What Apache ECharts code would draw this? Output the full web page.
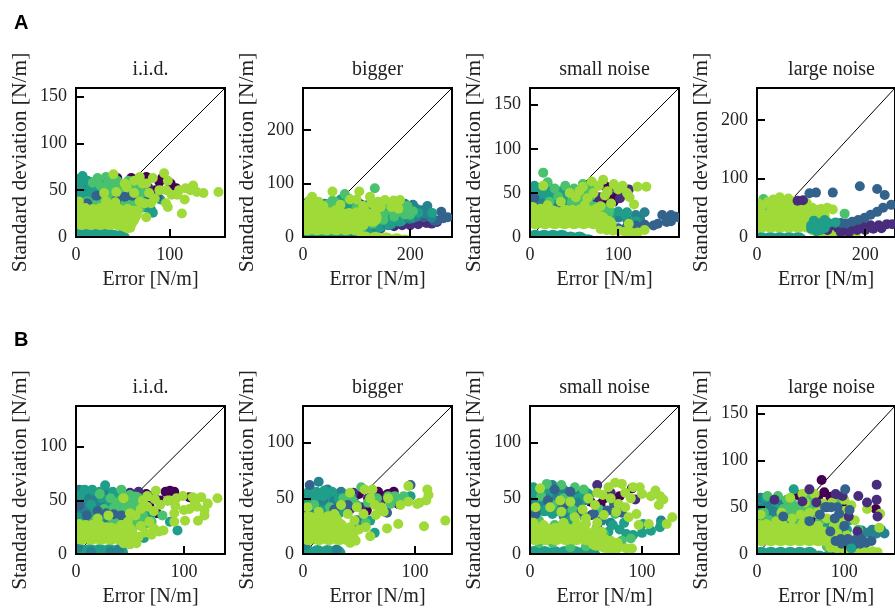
<!DOCTYPE html>
<html><head><meta charset="utf-8">
<style>html,body{margin:0;padding:0;background:#fff;overflow:hidden}#c{width:895px;height:608px}</style>
<script src="https://cdn.jsdelivr.net/npm/echarts@6/dist/echarts.min.js"></script></head>
<body><div id="c"></div>
<script>
const titles=["i.i.d.","bigger","small noise","large noise"];
const rowLetters=["A","B"];
const limits=[159,278,169,255,138,133,133,158];
const xTicks=[[0,100],[0,200],[0,100],[0,200],[0,100],[0,100],[0,100],[0,100]];
const yTicks=[[0,50,100,150],[0,100,200],[0,50,100,150],[0,100,200],[0,50,100],[0,50,100],[0,50,100],[0,50,100,150]];
const xLabel="Error [N/m]";
const yLabel="Standard deviation [N/m]";
const colors={purple:"#440154",indigo:"#472d7b",blue:"#33638d",tealblue:"#26828e",teal:"#1f9e89",green:"#4ac16d",lime:"#a0da39"};

// A i.i.d.
const a1Purple=[[44,63],[59,63],[75,64],[92,63],[101,57],[107,52],[84,47],[89,59],[69,48],[85,50],[46,52]];
const a1Indigo=[[43,57],[62,55],[77,53],[82,43],[53,47],[36,40],[20,38]];
const a1Blue=[[52,43],[60,44],[43,39],[87,43],[76,38],[12,36],[22,44]];
const a1CoreTeal=[[4,55],[13,55],[22,55],[30,55],[4,44],[13,44],[22,44],[32,44],[4,33],[13,33],[24,33],[4,3],[13,3],[22,3],[31,3],[40,-2],[48,-2]];
const a1Tealblue=[[3,60],[8,52],[3,44],[10,40],[16,46],[20,55],[3,34],[14,32],[80,29],[26,60]];
const a1Teal=[[7,65],[2,62],[12,60],[4,54],[15,52],[22,48],[5,46],[12,44],[2,38],[20,40],[28,44],[82,26],[76,31],[80,42],[90,40]];
const a1CoreGreen=[[38,52],[48,52],[58,52],[66,52],[32,40],[42,40],[52,40],[62,40],[72,40],[30,30],[40,30],[50,30],[60,30]];
const a1Green=[[23,63],[32,64],[26,55],[35,58],[44,60],[18,58],[40,50],[30,47],[48,55],[56,60],[24,40],[36,35],[44,24],[50,35],[60,30],[20,34],[72,42],[58,40],[68,30],[70,48],[12,38],[64,53],[34,28]];
const a1CoreLime=[[6,17],[16,17],[26,17],[36,17],[46,17],[54,17],[6,24],[16,24],[26,24],[36,24],[46,24],[56,24]];
const a1Lime=[[152,48],[136,47],[129,48],[125,55],[117,52],[116,40],[113,25],[108,45],[96,36],[98,32],[94,68],[40,67],[68,64],[82,63],[98,60],[96,50],[89,50],[75,21],[78,47],[68,38],[73,36],[80,36],[84,41],[52,57],[43,48],[71,57],[30,47],[32,38],[44,31],[64,22],[60,15],[55,9],[62,60],[54,53],[75,57],[102,45],[110,50],[122,50],[62,47],[66,28],
[45,12],[51,11],[58,10],[62,18],[65,24],[61,28],[2,32],[10,31],[18,30],[26,31],[35,31],[47,29],[55,30],[42,37],[3,38]];

// A bigger
const a2Purple=[[88,50],[75,52],[80,48]];
const a2Indigo=[[170,20],[185,22],[200,22],[215,24],[230,26],[240,25],[220,33],[235,38],[205,30],[190,28],[160,22],[145,16],[130,12],[110,10],[90,5],[70,3],[106,62],[78,62],[250,28]];
const a2Blue=[[250,31],[262,35],[270,37],[258,47],[245,30],[225,37],[205,35],[100,60],[80,55],[58,60],[95,52],[60,6],[215,42]];
const a2CoreTeal=[[10,52],[28,52],[46,52],[64,52],[82,52],[100,52],[118,52],[136,52],[154,52],[172,52],[190,50],[206,48],[10,-9],[28,-9],[46,-9],[64,-9],[82,-9],[120,18],[140,24],[160,30],[180,36],[200,42]];
const a2Tealblue=[[232,58],[220,50],[205,60],[190,62],[175,66],[240,36],[228,44],[212,38],[198,34],[178,30],[155,25],[135,20],[115,15],[95,10],[40,62],[20,64],[6,55]];
const a2Teal=[[241,45],[215,45],[195,50],[175,60],[150,66],[125,60],[100,65],[75,67],[50,62],[25,60],[10,66],[5,50],[100,10],[120,14],[140,20],[160,25],[180,30],[200,38],[165,30],[70,70],[3,60]];
const a2Green=[[55,68],[78,80],[134,91],[110,18],[130,25],[150,32],[170,38],[190,42],[205,48],[185,55],[165,50],[150,42],[60,65],[100,55],[175,46],[195,58],[122,35],[140,55],[160,60],[85,72],[45,60],[200,42]];
const a2CoreLime=[[8,20],[26,20],[44,20],[62,20],[80,20],[98,20],[8,36],[26,36],[44,36],[62,36],[80,36],[98,36],[116,36],[130,36],[8,48],[26,48],[115,-6],[135,-7],[155,-8],[175,-10],[190,-12]];
const a2Lime=[[55,85],[105,85],[17,75],[88,70],[125,75],[153,69],[169,68],[181,69],[178,53],[128,63],[29,66],[13,69],[60,50],[112,58],[38,58],[140,66],[100,70],[70,60],[165,56],[145,56],
[3,15],[113,22],[113,30],[124,30],[113,40],[125,42],[134,42],[5,48],[16,48],[27,48],[38,48],[49,46],[70,47],[86,45],[100,46],[115,50],[135,50],[5,60],[22,58]];

// A small noise
const a3Purple=[[75,40],[80,42],[95,40],[85,58],[92,45],[83,38],[100,50]];
const a3Indigo=[[112,54],[90,52],[78,45],[70,42],[102,44]];
const a3CoreTeal=[[4,48],[15,48],[26,48],[37,48],[48,48],[4,37],[15,37],[26,37],[37,37],[48,37],[58,37],[6,-2],[16,-2],[26,-2],[36,-2],[46,-4],[56,-4],[66,-7]];
const a3Tealblue=[[130,28],[120,25],[110,20],[100,22],[90,17],[85,15],[125,20],[12,40],[30,33],[45,32],[20,58],[3,55],[60,40]];
const a3Teal=[[5,58],[12,56],[3,48],[10,48],[18,49],[25,52],[2,40],[33,48],[42,40],[92,25],[100,29],[108,25],[80,18],[110,28],[120,18]];
const a3Blue=[[150,25],[165,23],[160,25],[155,17],[145,15],[130,14],[120,13],[110,12],[100,10],[90,10],[170,22],[160,18],[140,13],[125,10],[35,37],[48,36],[5,44]];
const a3CoreGreen=[[55,48],[66,50],[52,38],[62,38],[72,30],[85,28]];
const a3Green=[[15,73],[20,62],[28,55],[40,58],[32,46],[50,55],[60,60],[48,42],[66,52],[42,30],[22,40],[90,30],[70,50],[14,28],[50,20],[75,58],[60,33]];
const a3CoreLime=[[6,19],[17,19],[28,19],[39,19],[50,19],[61,19],[72,19],[80,19],[6,25],[17,25],[28,25],[39,25],[50,25],[61,25],[70,25],[88,14]];
const a3Lime=[[15,58],[83,65],[122,57],[132,57],[113,45],[118,37],[110,50],[112,15],[130,8],[60,57],[70,63],[95,60],[105,58],[56,52],[78,58],[45,50],[88,52],[100,54],[65,44],[72,50],[80,35],[92,38],[75,32],[3,34],[20,36],[35,40],[52,45],[62,36],[85,47],
[80,9],[87,8],[94,7],[101,7],[108,6],[115,5],[122,5],[5,32],[12,32],[19,31],[26,30],[40,31],[48,31],[56,31],[68,30]];

// A large noise
const a4Purple=[[14,47],[68,38]];
const a4CoreTeal=[[8,46],[25,46],[42,46],[60,46],[8,-7],[25,-7],[42,-7],[59,-7],[76,-7]];
const a4Tealblue=[[25,40],[10,40],[2,35],[40,50],[60,45]];
const a4CoreGreen=[[15,50],[32,50],[50,50],[67,50],[84,50]];
const a4Green=[[162,40],[12,65],[32,62],[22,48],[45,55],[55,45],[8,44],[72,55]];
const a4CoreLime=[[8,23],[25,23],[42,23],[59,23],[76,23],[93,23],[105,18],[35,48],[60,50],[77,48],[92,44],[108,40],[118,36],[120,-4],[137,-5],[154,-7],[170,-9]];
const a4Lime=[[42,68],[30,64],[58,66],[72,62],[80,55],[92,58],[102,50],[118,48],[130,50],[140,47],[112,42],[95,46],[82,44],[65,50],[50,60],[20,60],[70,42],[50,47],[2,58],[35,52],[10,54],[120,38],[105,38],
[114,5],[124,5],[134,4],[144,4],[154,4],[164,3],[174,3],[182,3],[4,41],[16,38],[28,36],[40,36],[55,38],[66,37],[82,34]];
const a4Indigo=[[130,12],[150,15],[165,15],[180,20],[195,20],[210,20],[225,20],[240,22],[250,22],[200,12],[140,20],[170,8],[185,12],[215,14],[230,15],[155,8],[85,63],[75,62]];
const a4Blue=[[97,75],[109,76],[140,76],[190,87],[222,82],[236,72],[233,50],[222,43],[210,38],[199,33],[187,29],[176,26],[165,23],[155,24],[145,24],[248,55]];
const a4Teal=[[100,20],[110,20],[120,25],[110,10],[125,15],[105,28],[118,12],[115,16],[100,14],[132,24],[145,25],[125,29]];

// B i.i.d.
const b1Purple=[[75,38],[87,59],[83,58],[91,58],[68,45],[65,56],[105,53],[60,50],[78,50]];
const b1Indigo=[[50,57],[58,58],[72,55],[85,50],[62,42],[55,50],[40,55]];
const b1CoreTeal=[[4,52],[13,52],[22,52],[30,52],[39,52],[4,42],[13,42],[22,42],[30,42],[4,32],[13,32],[22,32],[4,1],[13,1],[22,1],[31,1],[40,1]];
const b1Tealblue=[[3,60],[3,50],[10,54],[16,50],[4,40],[22,46],[28,58],[10,44],[30,30],[32,2],[2,6],[40,4],[60,45],[14,2]];
const b1Teal=[[27,64],[8,60],[15,60],[22,58],[34,58],[4,55],[14,46],[24,52],[2,34],[12,34],[22,34],[35,44],[94,22],[63,15],[87,30],[70,38],[2,30]];
const b1CoreGreen=[[46,50],[55,50],[38,41],[47,41],[56,41],[38,31],[47,31],[55,31]];
const b1Green=[[42,60],[50,55],[32,52],[22,56],[38,48],[46,44],[54,42],[26,42],[40,34],[50,30],[62,36],[34,26],[52,20],[70,30],[80,36],[16,30],[64,28]];
const b1Blue=[[35,37],[42,36],[10,36],[28,38],[20,40],[3,45]];
const b1CoreLime=[[5,17],[14,17],[23,17],[32,17],[41,17],[49,17],[5,21],[14,21],[23,21],[32,21],[41,21],[48,21]];
const b1Lime=[[131,52],[122,47],[119,41],[119,36],[113,31],[101,31],[100,41],[105,42],[116,53],[108,53],[99,54],[93,52],[91,38],[91,30],[81,22],[77,21],[70,18],[74,59],[62,50],[73,51],[85,50],[66,54],[110,48],[60,42],[55,36],[66,44],[72,40],[78,46],[68,30],[60,26],[64,20],[72,24],[58,16],[50,38],[44,52],[20,33],[30,36],[92,45],[112,44],
[44,10],[50,9],[56,10],[51,16],[50,23],[3,28],[9,27],[15,27],[22,27],[28,25],[42,27],[48,30]];

// B bigger
const b2Purple=[[67,56],[81,56],[85,45],[57,39],[50,54],[72,52],[76,54],[60,46],[48,30]];
const b2Indigo=[[45,55],[58,50],[70,48],[52,42],[42,40],[35,46]];
const b2CoreTeal=[[4,50],[13,50],[22,50],[31,50],[40,50],[4,40],[13,40],[22,40],[31,40],[4,30],[13,30],[22,30],[4,0],[13,0],[22,0],[30,0]];
const b2Tealblue=[[14,65],[49,30],[22,58],[34,56],[28,48],[12,40],[3,50],[40,52],[18,48],[6,44],[30,4],[2,8]];
const b2Teal=[[5,56],[12,56],[19,57],[26,56],[3,48],[10,48],[18,52],[32,50],[96,52],[64,19],[10,34],[20,36],[3,30],[28,35],[34,40],[60,30]];
const b2Green=[[52,60],[36,50],[44,48],[48,44],[76,52],[82,52],[90,52],[66,50],[58,46],[70,40],[78,45],[24,42],[56,28],[10,44],[86,48]];
const b2Blue=[[96,62],[6,62],[75,37],[40,44],[28,40],[46,24],[42,18],[36,14],[3,35]];
const b2CoreLime=[[5,16],[14,16],[23,16],[32,16],[40,16],[5,24],[14,24],[23,24],[32,24],[5,30],[14,30],[23,30]];
const b2Lime=[[127,30],[108,25],[85,27],[75,23],[111,58],[94,61],[112,53],[110,48],[102,45],[94,47],[87,44],[104,46],[70,42],[65,35],[72,38],[55,58],[42,55],[60,50],[64,44],[48,42],[54,36],[46,30],[40,36],[34,44],[28,36],[50,22],[56,24],[60,16],[4,42],[14,38],[22,34],[45,16],[76,50],[62,58],
[42,10],[47,12],[38,15],[42,24],[37,21],[33,27],[2,33],[7,33],[12,31],[17,31],[30,32]];

// B small noise
const b3Purple=[[91,59],[63,45],[54,47],[48,48],[66,50],[80,52],[76,48]];
const b3Indigo=[[94,49],[60,62],[40,50],[50,55],[72,55],[55,35],[60,18]];
const b3CoreTeal=[[4,52],[13,52],[22,52],[31,52],[40,52],[49,52],[4,42],[13,42],[22,42],[31,42],[4,-1],[13,-1],[22,-1],[31,-1],[40,-1],[49,-1],[55,-2]];
const b3Tealblue=[[20,62],[8,56],[30,58],[40,58],[14,50],[24,50],[2,48],[10,42],[30,34],[117,30],[42,46],[64,30],[72,28]];
const b3Teal=[[117,27],[116,24],[108,21],[100,19],[101,27],[92,17],[86,18],[80,22],[74,26],[3,60],[4,54],[14,40],[2,30],[20,36],[36,30],[70,20],[84,28]];
const b3Green=[[15,63],[28,62],[40,60],[48,58],[30,50],[10,52],[20,44],[38,40],[48,34],[62,40],[90,14],[76,36],[66,18],[56,14],[8,30],[22,26],[82,12],[36,6],[50,7],[8,10],[20,10]];
const b3Blue=[[82,37],[69,39],[75,45],[60,24],[57,36],[22,58],[30,44],[16,48],[46,38],[36,56],[5,36]];
const b3CoreLime=[[5,16],[14,16],[23,16],[32,16],[41,16],[50,16],[5,20],[14,20],[23,20],[32,20],[41,20],[59,11],[67,9],[74,6]];
const b3Lime=[[9,59],[5,42],[127,33],[122,27],[106,27],[97,26],[95,36],[88,33],[115,44],[119,49],[112,57],[98,60],[82,63],[76,64],[70,60],[60,55],[65,53],[52,50],[85,55],[90,50],[100,54],[108,52],[116,52],[92,60],[79,45],[72,50],[85,42],[77,38],[66,35],[18,42],[28,38],[40,33],[50,32],[58,44],[47,40],[27,48],[36,47],[60,28],
[68,7],[74,7],[80,6],[86,5],[91,5],[66,14],[72,12],[78,10],[58,21],[64,20],[3,28],[12,26],[30,28],[42,27],[50,27]];

// B large noise
const b4Purple=[[74,79],[77,66],[84,61],[103,52],[62,36],[46,63],[70,60],[95,58],[136,48]];
const b4CoreTeal=[[5,52],[16,52],[27,52],[5,40],[16,40],[27,40],[5,-2],[16,-2],[27,-2],[38,-2],[49,-2],[60,-2],[71,-6],[82,-6],[92,-6]];
const b4Tealblue=[[128,23],[137,22],[146,22],[132,26],[142,26],[64,29],[72,30],[4,60],[12,54],[3,48],[18,46],[40,42],[28,56],[120,25]];
const b4Teal=[[42,69],[106,36],[103,26],[95,24],[10,60],[3,38],[22,30],[35,32],[58,24],[48,38],[82,32]];
const b4CoreGreen=[[38,45],[50,45],[62,48],[50,35]];
const b4Green=[[12,62],[24,62],[34,58],[45,50],[30,48],[40,55],[52,50],[14,36],[8,44],[60,60],[66,50],[92,54],[116,26],[100,40],[72,35],[90,30],[50,26],[66,20],[80,8]];
const b4CoreLime=[[5,18],[16,18],[27,18],[38,18],[49,18],[60,18],[70,18],[78,18],[5,23],[16,23],[27,23],[38,23],[49,23],[60,23]];
const b4Lime=[[126,48],[141,43],[140,28],[52,64],[66,64],[38,60],[55,55],[76,54],[70,45],[80,38],[86,55],[100,58],[108,52],[112,36],[100,46],[96,36],[88,30],[60,44],[50,42],[40,38],[28,44],[10,32],[4,42],[92,22],[76,24],[103,20],[70,30],
[84,7],[92,6],[100,5],[108,4],[116,3],[124,3],[132,3],[138,2],[83,12],[68,20],[3,31],[12,31],[22,35],[30,31],[40,29],[52,32]];
const b4Indigo=[[60,69],[137,74],[137,58],[138,40],[126,55],[116,62],[90,64],[115,24],[68,55],[98,62],[80,50],[20,58],[105,40],[52,56]];
const b4Blue=[[101,69],[78,50],[85,50],[94,43],[106,47],[89,38],[60,35],[30,40],[90,14],[97,11],[104,10],[111,10],[118,11],[125,12],[131,14],[96,16],[104,16],[112,15],[120,16],[72,42],[100,30],[84,24],[92,50]];
const b4Bottom=[[108,6]];

const fine=10, core=18;
const panels=[
 [[a1Purple,"purple",fine],[a1Indigo,"indigo",fine],[a1CoreTeal,"teal",core],[a1Tealblue,"tealblue",fine],[a1Teal,"teal",fine],[a1CoreGreen,"green",core],[a1Green,"green",fine],[a1Blue,"blue",fine],[a1CoreLime,"lime",core],[a1Lime,"lime",fine]],
 [[a2Purple,"purple",fine],[a2Indigo,"indigo",fine],[a2Blue,"blue",fine],[a2CoreTeal,"teal",core],[a2Tealblue,"tealblue",fine],[a2Teal,"teal",fine],[a2Green,"green",fine],[a2CoreLime,"lime",core],[a2Lime,"lime",fine]],
 [[a3Purple,"purple",fine],[a3Indigo,"indigo",fine],[a3CoreTeal,"teal",core],[a3Tealblue,"tealblue",fine],[a3Teal,"teal",fine],[a3Blue,"blue",fine],[a3CoreGreen,"green",core],[a3Green,"green",fine],[a3CoreLime,"lime",core],[a3Lime,"lime",fine]],
 [[a4Purple,"purple",fine],[a4CoreTeal,"teal",core],[a4Tealblue,"tealblue",fine],[a4CoreGreen,"green",core],[a4Green,"green",fine],[a4CoreLime,"lime",core],[a4Lime,"lime",fine],[a4Indigo,"indigo",fine],[a4Blue,"blue",fine],[a4Teal,"teal",fine]],
 [[b1Purple,"purple",fine],[b1Indigo,"indigo",fine],[b1CoreTeal,"teal",core],[b1Tealblue,"tealblue",fine],[b1Teal,"teal",fine],[b1CoreGreen,"green",core],[b1Green,"green",fine],[b1Blue,"blue",fine],[b1CoreLime,"lime",core],[b1Lime,"lime",fine]],
 [[b2Purple,"purple",fine],[b2Indigo,"indigo",fine],[b2CoreTeal,"teal",core],[b2Tealblue,"tealblue",fine],[b2Teal,"teal",fine],[b2Green,"green",fine],[b2Blue,"blue",fine],[b2CoreLime,"lime",core],[b2Lime,"lime",fine]],
 [[b3Purple,"purple",fine],[b3Indigo,"indigo",fine],[b3CoreTeal,"teal",core],[b3Tealblue,"tealblue",fine],[b3Teal,"teal",fine],[b3Green,"green",fine],[b3Blue,"blue",fine],[b3CoreLime,"lime",core],[b3Lime,"lime",fine]],
 [[b4Purple,"purple",fine],[b4CoreTeal,"teal",core],[b4Tealblue,"tealblue",fine],[b4Teal,"teal",fine],[b4CoreGreen,"green",core],[b4Green,"green",fine],[b4CoreLime,"lime",core],[b4Lime,"lime",fine],[b4Indigo,"indigo",fine],[b4Blue,"blue",fine],[b4Bottom,"teal",fine]]
];

const lefts=[76,303,530,757], tops=[88,406], W=149, H=[149,148];
const serif="'Liberation Serif','Times New Roman',serif";
const grid=[],xAxis=[],yAxis=[],series=[],graphic=[];
panels.forEach((layers,i)=>{
  const col=i%4,row=i<4?0:1,m=limits[i];
  grid.push({left:lefts[col],top:tops[row],width:W,height:H[row],show:true,borderColor:"#000",borderWidth:2,backgroundColor:"transparent",containLabel:false});
  const common={min:0,max:m,splitLine:{show:false},z:10,nameLocation:"middle",
    axisLine:{show:true,onZero:false,lineStyle:{color:"#000",width:2}}};
  xAxis.push(Object.assign({},common,{type:"value",gridIndex:i,name:xLabel,nameGap:33,
    nameTextStyle:{fontFamily:serif,fontSize:20,color:"#222"},
    axisTick:{show:true,inside:true,length:8,customValues:xTicks[i],lineStyle:{color:"#000",width:2}},
    axisLabel:{customValues:xTicks[i],fontFamily:serif,fontSize:18,color:"#222",margin:9}}));
  yAxis.push(Object.assign({},common,{type:"value",gridIndex:i,name:yLabel,nameGap:45,
    nameTextStyle:{fontFamily:serif,fontSize:21.5,color:"#222"},
    axisTick:{show:true,inside:true,length:8,customValues:yTicks[i],lineStyle:{color:"#000",width:2}},
    axisLabel:{customValues:yTicks[i],fontFamily:serif,fontSize:18,color:"#222",margin:9}}));
  series.push({type:"line",xAxisIndex:i,yAxisIndex:i,data:[[0,0],[m,m]],showSymbol:false,silent:true,
    lineStyle:{color:"#000",width:1},z:1,animation:false});
  layers.forEach(l=>{
    const fill=colors[l[1]],r=l[2]/2;
    series.push({type:"custom",xAxisIndex:i,yAxisIndex:i,data:l[0],encode:{x:0,y:1},clip:true,z:2,animation:false,silent:true,
      renderItem:(params,api)=>{
        const p=api.coord([api.value(0),api.value(1)]);
        return {type:"circle",shape:{cx:p[0],cy:p[1],r:r},style:{fill:fill}};
      }});
  });
  graphic.push({type:"text",x:lefts[col]+W/2,y:(row?388:70),style:{text:titles[col],fontFamily:serif,fontSize:20,fill:"#222",textAlign:"center",textVerticalAlign:"middle"}});
});
rowLetters.forEach((t,r)=>graphic.push({type:"text",x:14,y:r?340:23,style:{text:t,fontFamily:"'Liberation Sans',Arial,sans-serif",fontWeight:"bold",fontSize:20,fill:"#000",textAlign:"left",textVerticalAlign:"middle"}}));
const chart=echarts.init(document.getElementById("c"),null,{renderer:"canvas",width:895,height:608});
chart.setOption({animation:false,backgroundColor:"#fff",grid,xAxis,yAxis,series,graphic});
</script></body></html>
